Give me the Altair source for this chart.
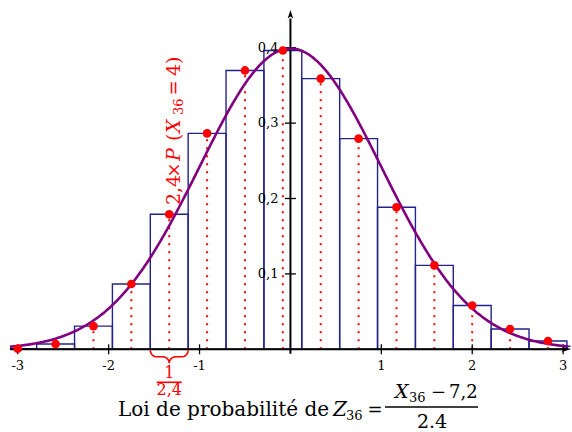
import altair as alt
import numpy as np
import pandas as pd

# X36 follows B(36 ; 0.2): outcomes k and P(X36 = k)
k_values = list(range(16))
probabilities = [0.0003, 0.0029, 0.0128, 0.0361, 0.0746, 0.1193, 0.1541, 0.1651,
                 0.1496, 0.1164, 0.0785, 0.0464, 0.0242, 0.0112, 0.0046, 0.0017]
mean_x36 = 7.2
sd_x36 = 2.4
highlighted_k = 4

x_tick_values = [-3, -2, -1, 1, 2, 3]
x_tick_labels = ["-3", "-2", "-1", "1", "2", "3"]
y_tick_values = [0.1, 0.2, 0.3, 0.4]
y_tick_labels = ["0,1", "0,2", "0,3", "0,4"]

# frame of the plot area
X_MIN, X_MAX = -3.085, 3.08
Y_MAX = 0.452
PX_PER_X = 90.9
PX_PER_Y = 754.0
LEFT, TOP = 10, 8.5
W = (X_MAX - X_MIN) * PX_PER_X
H = Y_MAX * PX_PER_Y

NAVY = "#23238c"
PURPLE = "#800080"
RED = "#ff0000"
SERIF = "DejaVu Serif"


def dx(px):
    return px / PX_PER_X


def dy(px):
    return px / PX_PER_Y


xs = alt.Scale(domain=[X_MIN, X_MAX], nice=False, zero=False)
ys = alt.Scale(domain=[0, Y_MAX], nice=False, zero=False)


def X(field):
    return alt.X(field, type="quantitative", scale=xs, axis=None)


def Y(field):
    return alt.Y(field, type="quantitative", scale=ys, axis=None)


# histogram of Z36 = (X36 - 7,2) / 2,4 : bars of width 1/2,4 and height 2,4 * P(X36 = k)
bars = pd.DataFrame({"k": k_values, "p": probabilities})
bars["z"] = (bars["k"] - mean_x36) / sd_x36
bars["h"] = sd_x36 * bars["p"]
bars["z1"] = bars["z"] - 0.5 / sd_x36
bars["z2"] = bars["z"] + 0.5 / sd_x36
bars["base"] = 0.0
visible = bars[bars["z"] <= X_MAX]

rects = alt.Chart(bars).mark_rect(
    filled=False, color=NAVY, strokeWidth=1.4, clip=True
).encode(x=X("z1"), x2="z2", y=Y("h"), y2="base")

drops = alt.Chart(visible).mark_rule(
    color=RED, strokeWidth=2, strokeDash=[2, 6]
).encode(x=X("z"), y=Y("base"), y2="h")

dots = alt.Chart(visible).mark_circle(color=RED, size=75, opacity=1).encode(
    x=X("z"), y=Y("h")
)

# standard normal density
curve = alt.Chart(alt.sequence(X_MIN, 3.06, 0.01, as_="z")).transform_calculate(
    d="exp(-datum.z * datum.z / 2) / sqrt(2 * PI)"
).mark_line(color=PURPLE, strokeWidth=2.6).encode(x=X("z"), y=Y("d"))

# axes through the origin
x_axis = alt.Chart(pd.DataFrame({"a": [X_MIN], "b": [X_MAX - dx(6)], "y": [0.0]})).mark_rule(
    color="black", strokeWidth=2
).encode(x=X("a"), x2="b", y=Y("y"))
y_axis = alt.Chart(pd.DataFrame({"x": [0.0], "a": [-dy(4.5)], "b": [Y_MAX - dy(10)]})).mark_rule(
    color="black", strokeWidth=2
).encode(x=X("x"), y=Y("a"), y2="b")

arrow_shape = "M0,-1 L0.45,0.4 L0,0.1 L-0.45,0.4 Z"
arrow_up = alt.Chart(pd.DataFrame({"x": [0.0], "y": [Y_MAX - dy(7.5)]})).mark_point(
    shape=arrow_shape, filled=True, color="black", size=150, opacity=1
).encode(x=X("x"), y=Y("y"))
arrow_right = alt.Chart(pd.DataFrame({"x": [X_MAX - dx(6)], "y": [0.0]})).mark_point(
    shape=arrow_shape, filled=True, color="black", size=150, opacity=1, angle=90
).encode(x=X("x"), y=Y("y"))

xt = pd.DataFrame({"v": x_tick_values, "lab": x_tick_labels})
xt["a"], xt["b"], xt["ly"] = -dy(5), dy(5), -dy(16.5)
yt = pd.DataFrame({"v": y_tick_values, "lab": y_tick_labels})
yt["a"], yt["b"], yt["lx"] = -dx(5.5), dx(5.5), -dx(12)

x_ticks = alt.Chart(xt).mark_rule(color="black", strokeWidth=1.3).encode(
    x=X("v"), y=Y("a"), y2="b"
)
x_labels = alt.Chart(xt).mark_text(
    font=SERIF, fontSize=13, baseline="middle", align="center", color="black"
).encode(x=X("v"), y=Y("ly"), text="lab:N")
y_ticks = alt.Chart(yt).mark_rule(color="black", strokeWidth=1.3).encode(
    x=X("a"), x2="b", y=Y("v")
)
y_labels = alt.Chart(yt).mark_text(
    font=SERIF, fontSize=13, baseline="middle", align="right", color="black"
).encode(x=X("lx"), y=Y("v"), text="lab:N")

# brace under the bar of k = 4, spanning its width 1/2,4
hk = bars[bars["k"] == highlighted_k].iloc[0]
half_px = 0.5 / sd_x36 * PX_PER_X
r = 6.5
t = np.linspace(0, np.pi / 2, 12)
left_end = [(-half_px + r - r * np.cos(a), 1 + r * np.sin(a)) for a in t]
left_tip = [(-r + r * np.sin(a), 1 + 2 * r - r * np.cos(a)) for a in t]
half_brace = left_end + left_tip
path = half_brace + [(-u, v) for (u, v) in reversed(half_brace)]
brace = pd.DataFrame({
    "i": range(len(path)),
    "x": [hk["z"] + dx(u) for u, v in path],
    "y": [-dy(v) for u, v in path],
})
brace_line = alt.Chart(brace).mark_line(color=RED, strokeWidth=1.6).encode(
    x=X("x"), y=Y("y"), order="i:Q"
)

frac = pd.DataFrame({"x": [hk["z"]], "num": ["1"], "den": ["2,4"],
                     "yn": [-dy(28.5)], "yd": [-dy(45.3)],
                     "a": [hk["z"] - dx(12.5)], "b": [hk["z"] + dx(12.5)], "yb": [-dy(33)]})
frac_style = dict(font=SERIF, fontSize=16, color=RED, align="center", baseline="alphabetic")
frac_num = alt.Chart(frac).mark_text(**frac_style).encode(x=X("x"), y=Y("yn"), text="num:N")
frac_den = alt.Chart(frac).mark_text(**frac_style).encode(x=X("x"), y=Y("yd"), text="den:N")
frac_bar = alt.Chart(frac).mark_rule(color=RED, strokeWidth=1.6).encode(
    x=X("a"), x2="b", y=Y("yb"))


# vertical label of the bar height: 2,4 × P(X36 = 4), read from bottom to top
def side_piece(text, at_py, size=19, italic=False, shift_px=0.0, align="left"):
    mark = dict(font=SERIF, fontSize=size, color=RED, angle=270,
                align=align, baseline="alphabetic")
    if italic:
        mark["fontStyle"] = "italic"
    df = pd.DataFrame({"t": [text], "x": [hk["z"] + dx(10.8 + shift_px)],
                       "y": [(349.3 - at_py) / PX_PER_Y]})
    return alt.Chart(df).mark_text(**mark).encode(x=X("x"), y=Y("y"), text="t:N")


side_label = [
    side_piece("2,4", 205),
    side_piece("×", 170, size=18, align="center"),
    side_piece("P", 161, italic=True),
    side_piece("(", 141),
    side_piece("X", 133, italic=True),
    side_piece("36", 115, size=13, shift_px=2.5),
    side_piece("=", 88, size=18, align="center"),
    side_piece("4)", 76),
]


def label(text, px, py, size=20, italic=False, align="left"):
    mark = dict(font=SERIF, fontSize=size, color="black", align=align, baseline="alphabetic")
    if italic:
        mark["fontStyle"] = "italic"
    return alt.Chart(pd.DataFrame({"t": [text]})).mark_text(**mark).encode(
        x=alt.value(px - LEFT), y=alt.value(py - TOP), text="t:N")


caption = [
    label("Loi de probabilité de", 118, 416),
    label("Z", 333, 416, italic=True),
    label("36", 346, 420, size=13),
    label("=", 375, 416, size=18, align="center"),
    label("X", 395, 398, italic=True, size=19),
    label("36", 409, 402, size=13),
    label("−", 438.5, 398, size=18, align="center"),
    label("7,2", 449, 398, size=18),
    label("2.4", 432, 428, size=19, align="center"),
]
caption_bar = alt.Chart(pd.DataFrame({"a": [0]})).mark_rule(color="black", strokeWidth=1.6).encode(
    x=alt.value(385 - LEFT), x2=alt.value(478 - LEFT), y=alt.value(407 - TOP))

chart = alt.layer(
    rects, drops, x_axis, y_axis, arrow_up, arrow_right, x_ticks, y_ticks,
    x_labels, y_labels, curve, dots, brace_line, frac_num, frac_den, frac_bar,
    *side_label, caption_bar, *caption
).properties(
    width=W, height=H, autosize="none",
    padding={"left": LEFT, "top": TOP, "right": 572 - LEFT - W, "bottom": 432 - TOP - H},
    background="white",
).configure_view(strokeWidth=0)

chart.save("out.html", embed_options={"renderer": "svg", "actions": False})
